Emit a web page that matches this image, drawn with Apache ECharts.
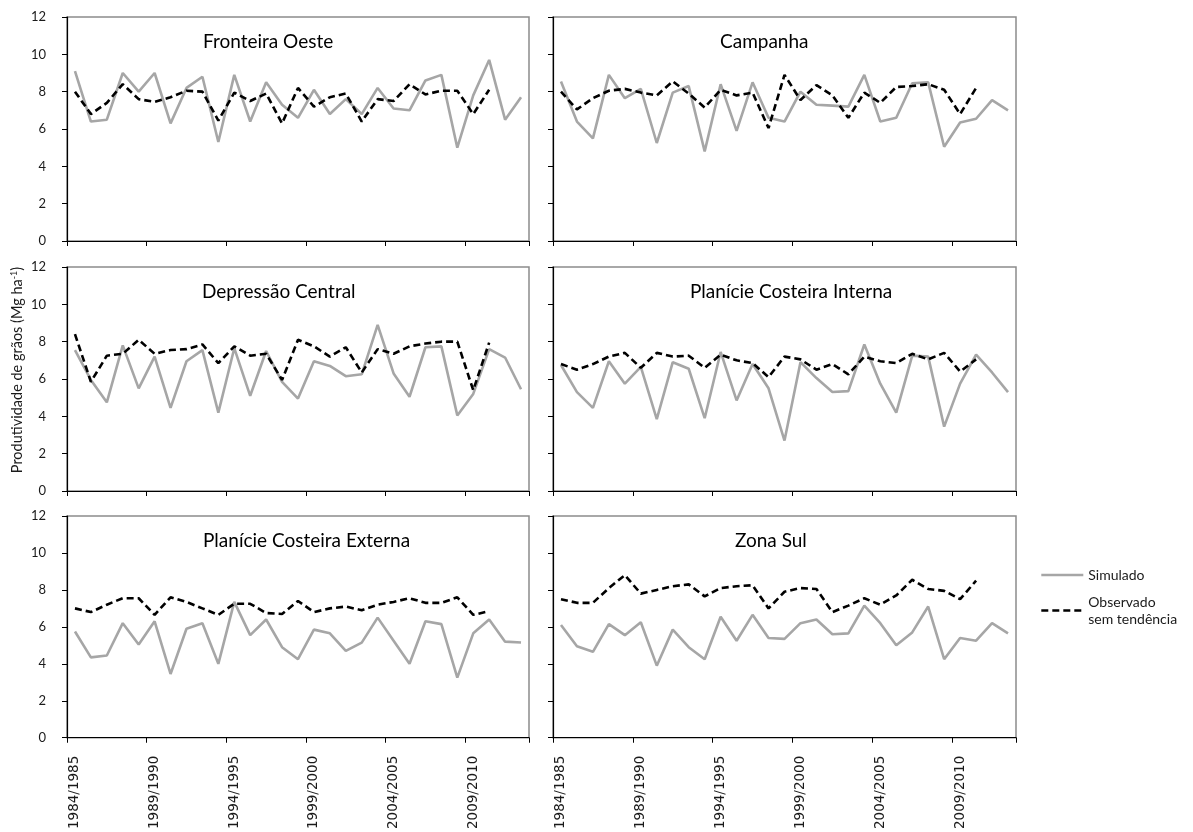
<!DOCTYPE html>
<html>
<head>
<meta charset="utf-8">
<script src="https://cdn.jsdelivr.net/npm/echarts@6/dist/echarts.min.js"></script>
<style>
html,body{margin:0;padding:0;background:#fff;}
#chart{width:1193px;height:832px;}
</style>
</head>
<body>
<div id="chart"></div>
<script>
// Categories (crop seasons)
var seasons = ['1984/1985','1985/1986','1986/1987','1987/1988','1988/1989','1989/1990','1990/1991','1991/1992','1992/1993','1993/1994',
  '1994/1995','1995/1996','1996/1997','1997/1998','1998/1999','1999/2000','2000/2001','2001/2002','2002/2003','2003/2004',
  '2004/2005','2005/2006','2006/2007','2007/2008','2008/2009','2009/2010','2010/2011','2011/2012','2012/2013'];

var regionNames = ['Fronteira Oeste','Campanha','Depressão Central','Planície Costeira Interna','Planície Costeira Externa','Zona Sul'];

// Fronteira Oeste
var foSim = [9.1,6.4,6.5,9.0,8.0,9.0,6.3,8.2,8.8,5.3,8.9,6.4,8.5,7.3,6.6,8.1,6.8,7.6,6.8,8.2,7.1,7.0,8.6,8.9,5.0,7.8,9.7,6.5,7.7];
var foObs = [8.0,6.8,7.4,8.4,7.6,7.45,7.7,8.05,8.0,6.45,7.95,7.5,7.9,6.3,8.2,7.2,7.7,7.9,6.4,7.6,7.5,8.4,7.85,8.05,8.05,6.8,8.1];
// Campanha
var caSim = [8.55,6.4,5.5,8.9,7.65,8.15,5.25,7.95,8.3,4.8,8.4,5.9,8.5,6.6,6.4,8.0,7.3,7.25,7.2,8.9,6.4,6.6,8.45,8.5,5.05,6.35,6.55,7.55,7.0];
var caObs = [8.0,7.05,7.65,8.05,8.15,7.95,7.8,8.55,7.9,7.15,8.1,7.8,7.95,6.05,8.9,7.55,8.35,7.8,6.6,7.95,7.4,8.25,8.3,8.4,8.1,6.8,8.2];
// Depressão Central
var dcSim = [7.55,5.95,4.75,7.8,5.5,7.2,4.45,6.95,7.55,4.2,7.65,5.1,7.5,5.85,4.95,6.95,6.7,6.15,6.25,8.9,6.3,5.05,7.7,7.75,4.05,5.2,7.6,7.15,5.45];
var dcObs = [8.4,5.85,7.25,7.35,8.1,7.35,7.55,7.6,7.85,6.85,7.75,7.25,7.35,5.95,8.1,7.75,7.2,7.7,6.35,7.6,7.35,7.75,7.9,8.0,8.0,5.4,7.95];
// Planície Costeira Interna
var pciSim = [6.75,5.3,4.45,6.95,5.75,6.65,3.85,6.9,6.55,3.9,7.45,4.85,6.8,5.5,2.7,6.9,6.05,5.3,5.35,7.85,5.75,4.2,7.25,7.2,3.45,5.75,7.3,6.35,5.3];
var pciObs = [6.8,6.5,6.8,7.2,7.4,6.6,7.4,7.2,7.25,6.6,7.3,7.0,6.85,6.1,7.2,7.05,6.5,6.8,6.25,7.2,6.95,6.85,7.35,7.05,7.4,6.4,7.05];
// Planície Costeira Externa
var pceSim = [5.75,4.35,4.45,6.2,5.05,6.3,3.45,5.9,6.2,4.0,7.35,5.55,6.4,4.9,4.25,5.85,5.65,4.7,5.15,6.5,5.25,4.0,6.3,6.15,3.25,5.65,6.4,5.2,5.15];
var pceObs = [7.0,6.8,7.2,7.55,7.55,6.65,7.6,7.35,7.0,6.65,7.25,7.25,6.75,6.7,7.4,6.8,7.0,7.1,6.9,7.2,7.35,7.55,7.3,7.3,7.6,6.65,6.85];
// Zona Sul
var zsSim = [6.1,4.95,4.65,6.15,5.55,6.25,3.9,5.85,4.9,4.25,6.55,5.25,6.65,5.4,5.35,6.2,6.4,5.6,5.65,7.15,6.2,5.0,5.7,7.1,4.25,5.4,5.25,6.2,5.65];
var zsObs = [7.5,7.3,7.3,8.1,8.8,7.8,8.0,8.2,8.3,7.65,8.1,8.2,8.25,7.0,7.9,8.1,8.05,6.8,7.15,7.55,7.2,7.7,8.55,8.05,7.95,7.5,8.5];

var simList = [foSim, caSim, dcSim, pciSim, pceSim, zsSim];
var obsList = [foObs, caObs, dcObs, pciObs, pceObs, zsObs];

var yTicks = {min: 0, max: 12, interval: 2};
var simName = 'Simulado';
var obsName = 'Observado\nsem tendência';

// layout
var colLeft = [67, 553];
var colWidth = [462, 463];
var rowTop = [17, 267, 516];
var rowHeight = [224, 224, 225];
var titlePos = [[198, 27], [715, 27], [197, 277], [685, 277], [198, 526], [730, 526]];

var chart = echarts.init(document.getElementById('chart'), null, {renderer: 'canvas'});

var grids = [], xAxes = [], yAxes = [], series = [], titles = [];
for (var g = 0; g < 6; g++) {
  var col = g % 2, row = Math.floor(g / 2);
  grids.push({left: colLeft[col], top: rowTop[row], width: colWidth[col], height: rowHeight[row],
    show: true, borderColor: '#8c8c8c', borderWidth: 1.5, backgroundColor: 'transparent'});
  xAxes.push({
    gridIndex: g, type: 'category', data: seasons, boundaryGap: true,
    axisLine: {show: true, lineStyle: {color: '#000', width: 1.2}},
    axisTick: {show: true, interval: 4, length: 5, inside: false, lineStyle: {color: '#000', width: 1}},
    axisLabel: {show: row === 2, interval: 4, rotate: 90, margin: 18,
      fontFamily: 'DejaVu Sans', fontSize: 13.5, color: '#1a1a1a'},
    splitLine: {show: false}
  });
  var ya = {
    gridIndex: g, type: 'value', min: yTicks.min, max: yTicks.max, interval: yTicks.interval,
    axisLine: {show: true, lineStyle: {color: '#000', width: 1.2}},
    axisTick: {show: true, length: 5, inside: false, lineStyle: {color: '#000', width: 1}},
    axisLabel: {show: col === 0, margin: 21, fontFamily: 'Lato', fontSize: 13, color: '#1a1a1a'},
    splitLine: {show: false}
  };
  if (g === 2) {
    ya.name = 'Produtividade de grãos (Mg ha{sup|-1})';
    ya.nameLocation = 'middle';
    ya.nameGap = 42;
    ya.nameRotate = 90;
    ya.nameTextStyle = {fontFamily: 'Lato', fontSize: 14.5, color: '#1a1a1a', padding: [0, 0, 0, 18],
      rich: {sup: {fontFamily: 'Lato', fontSize: 9, color: '#1a1a1a', verticalAlign: 'top', padding: [0, 0, 6, 0]}}};
  }
  yAxes.push(ya);
  series.push({
    name: simName, type: 'line', xAxisIndex: g, yAxisIndex: g, data: simList[g],
    symbol: 'none', showSymbol: false, smooth: false, animation: false,
    lineStyle: {color: '#a6a6a6', width: 2.6}, itemStyle: {color: '#a6a6a6'}, z: 2
  });
  series.push({
    name: obsName, type: 'line', xAxisIndex: g, yAxisIndex: g, data: obsList[g],
    symbol: 'none', showSymbol: false, smooth: false, animation: false,
    lineStyle: {color: '#000', width: 2.6, type: [7, 4]}, itemStyle: {color: '#000'}, z: 3
  });
  titles.push({text: regionNames[g], left: titlePos[g][0], top: titlePos[g][1],
    textStyle: {fontFamily: 'Lato', fontSize: 19, fontWeight: 'normal', color: '#000'}});
}

var option = {
  backgroundColor: '#fff',
  animation: false,
  title: titles,
  grid: grids,
  xAxis: xAxes,
  yAxis: yAxes,
  legend: [
    {data: [simName], orient: 'vertical', left: 1035, top: 563, itemWidth: 42, itemHeight: 14, itemGap: 5,
      itemStyle: {opacity: 0}, lineStyle: {width: 2.6},
      textStyle: {fontFamily: 'Lato', fontSize: 14, color: '#1a1a1a'}, selectedMode: false},
    {data: [{name: obsName, textStyle: {padding: [17, 0, 0, 0]}}], orient: 'vertical', left: 1035, top: 580,
      itemWidth: 42, itemHeight: 14, itemGap: 5,
      itemStyle: {opacity: 0}, lineStyle: {width: 2.6},
      textStyle: {fontFamily: 'Lato', fontSize: 14, color: '#1a1a1a', lineHeight: 17}, selectedMode: false}
  ],
  series: series
};
chart.setOption(option);
</script>
</body>
</html>
